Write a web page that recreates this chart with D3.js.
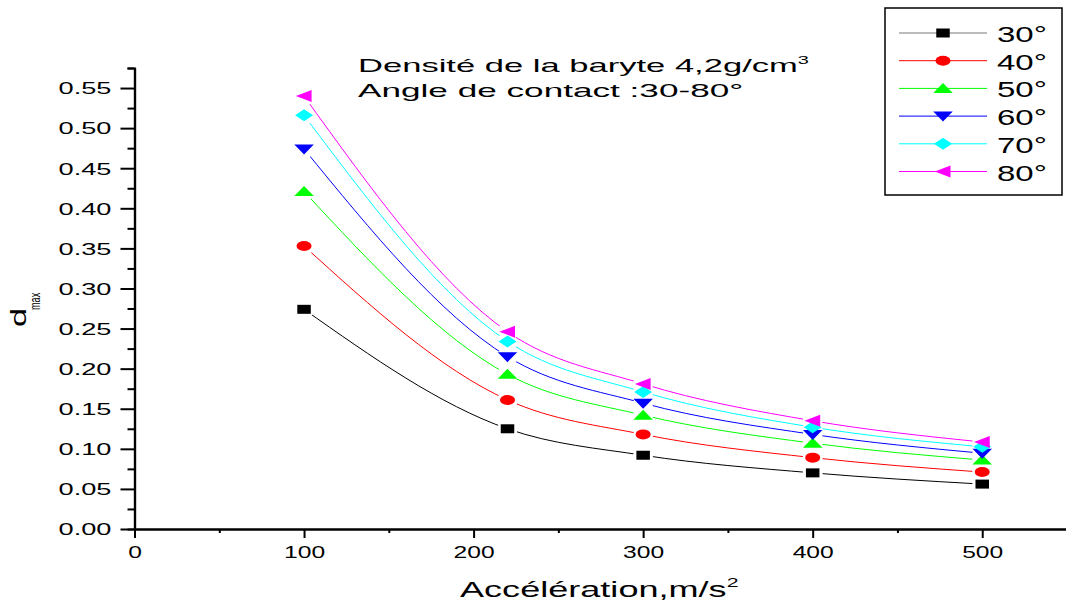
<!DOCTYPE html>
<html>
<head>
<meta charset="utf-8">
<script src="https://cdn.jsdelivr.net/npm/d3@7"></script>
<style>
  body { margin: 0; background: #fff; }
  text { font-family: "Liberation Sans", Arial, sans-serif; fill: #000; }
</style>
</head>
<body>
<script>
const width = 1066;
const height = 606;

// acceleration (m/s^2) and d_max for each contact angle
const accel = [100, 220, 300, 400, 500];
const angles = ['30°', '40°', '50°', '60°', '70°', '80°'];
const d30 = [0.274, 0.125, 0.092, 0.070, 0.056];
const d40 = [0.353, 0.161, 0.118, 0.089, 0.071];
const d50 = [0.421, 0.193, 0.142, 0.107, 0.086];
const d60 = [0.474, 0.215, 0.157, 0.118, 0.0945];
const d70 = [0.516, 0.234, 0.171, 0.127, 0.1025];
const d80 = [0.540, 0.246, 0.181, 0.135, 0.1085];
const colors = ['#000000', '#ff0000', '#00ff00', '#0000ff', '#00ffff', '#ff00ff'];
const yTicks = [0, 0.05, 0.10, 0.15, 0.20, 0.25, 0.30, 0.35, 0.40, 0.45, 0.50, 0.55];
const xTicks = [0, 100, 200, 300, 400, 500];

const series = [d30, d40, d50, d60, d70, d80];

// marker shapes (drawn then stretched horizontally)
const symbols = [
  {draw(c){ c.rect(-4.5, -4.5, 9, 9); }},
  {draw(c){ c.moveTo(5, 0); c.arc(0, 0, 5, 0, 2 * Math.PI); }},
  {draw(c){ c.moveTo(0, -5.5); c.lineTo(6.5, 4.5); c.lineTo(-6.5, 4.5); c.closePath(); }},
  {draw(c){ c.moveTo(0, 5.5); c.lineTo(6.5, -4.5); c.lineTo(-6.5, -4.5); c.closePath(); }},
  {draw(c){ c.moveTo(0, -6); c.lineTo(6, 0); c.lineTo(0, 6); c.lineTo(-6, 0); c.closePath(); }},
  {draw(c){ c.moveTo(-5.5, 0); c.lineTo(5, -6); c.lineTo(5, 6); c.closePath(); }}
];

const x = d3.scaleLinear().domain([0, 550]).range([134.5, 1067]);
const y = d3.scaleLinear().domain([0, 0.575]).range([529, 68]);

const svg = d3.select('body').append('svg').attr('width', width).attr('height', height);
const defs = svg.append('defs');

// y axis
const yAxis = svg.append('g').attr('transform', `translate(${x(0)},0)`)
  .call(d3.axisLeft(y).tickValues(yTicks).tickSize(14).tickSizeOuter(0).tickFormat(d3.format('.2f')));
yAxis.append('g').call(d3.axisLeft(y).tickValues(d3.range(0.025, 0.6, 0.05)).tickSize(7).tickFormat(''));
yAxis.selectAll('path.domain').attr('stroke-width', 2.2);
yAxis.selectAll('.tick line').attr('stroke-width', 2);
yAxis.selectAll('.tick text')
  .attr('x', -23 / 1.6).attr('dy', '0.34em')
  .attr('transform', 'scale(1.6,1)')
  .style('font-size', '17px').style('font-family', '"Liberation Sans", Arial, sans-serif');

// x axis
const xAxis = svg.append('g').attr('transform', `translate(0,${y(0)})`)
  .call(d3.axisBottom(x).tickValues(xTicks).tickSize(9).tickSizeOuter(0).tickFormat(d3.format('d')));
xAxis.append('g').call(d3.axisBottom(x).tickValues(d3.range(50, 600, 100)).tickSize(4).tickFormat(''));
xAxis.selectAll('path.domain').attr('stroke-width', 2);
xAxis.selectAll('.tick line').attr('stroke-width', 2);
xAxis.selectAll('.tick text')
  .attr('y', 29).attr('dy', 0)
  .attr('transform', 'scale(1.45,1)')
  .style('font-size', '17px').style('font-family', '"Liberation Sans", Arial, sans-serif');

// curves with a gap around each marker
const line = d3.line().x((d, i) => x(accel[i])).y(d => y(d)).curve(d3.curveMonotoneX);

series.forEach((vals, s) => {
  const mask = defs.append('mask').attr('id', 'gap' + s).attr('maskUnits', 'userSpaceOnUse')
    .attr('x', 0).attr('y', 0).attr('width', width).attr('height', height);
  mask.append('rect').attr('width', width).attr('height', height).attr('fill', '#fff');
  mask.selectAll('circle').data(vals).join('circle')
    .attr('cx', (d, i) => x(accel[i])).attr('cy', d => y(d)).attr('r', 10).attr('fill', '#000');

  svg.append('path').datum(vals)
    .attr('d', line).attr('fill', 'none')
    .attr('stroke', colors[s]).attr('stroke-width', 1)
    .attr('mask', `url(#gap${s})`);
});

series.forEach((vals, s) => {
  svg.append('g').selectAll('path').data(vals).join('path')
    .attr('d', d3.symbol(symbols[s]))
    .attr('transform', (d, i) => `translate(${x(accel[i])},${y(d)}) scale(1.5,1)`)
    .attr('fill', colors[s]);
});

// legend
const legend = svg.append('g');
legend.append('rect').attr('x', 885).attr('y', 8).attr('width', 177).attr('height', 187)
  .attr('fill', '#fff').attr('stroke', '#000').attr('stroke-width', 1.5);
angles.forEach((a, s) => {
  const ly = 33 + s * 27.7;
  legend.append('line').attr('x1', 899).attr('x2', 987).attr('y1', ly).attr('y2', ly)
    .attr('stroke', s === 0 ? '#777' : colors[s]).attr('stroke-width', 1);
  legend.append('path').attr('d', d3.symbol(symbols[s]))
    .attr('transform', `translate(943,${ly}) scale(1.5,1)`).attr('fill', colors[s]);
  legend.append('text').attr('transform', `translate(997,${ly + 9}) scale(1.5,1)`)
    .style('font-size', '22px').text(a);
});

// annotation
const t1 = svg.append('text').attr('transform', 'translate(358,72) scale(1.82,1)').style('font-size', '19px');
t1.append('tspan').text('Densité de la baryte 4,2g/cm');
t1.append('tspan').attr('dy', -8).style('font-size', '11px').text('3');
svg.append('text').attr('transform', 'translate(358,97) scale(1.85,1)').style('font-size', '19px')
  .text('Angle de contact :30-80°');

// axis titles
const xl = svg.append('text').attr('transform', 'translate(460,597) scale(1.64,1)').style('font-size', '22px');
xl.append('tspan').text('Accélération,m/s');
xl.append('tspan').attr('dy', -10).style('font-size', '13px').text('2');

svg.append('text').attr('transform', 'translate(26,327) rotate(-90) scale(1.55,1)')
  .style('font-size', '22px').text('d');
svg.append('text').attr('transform', 'translate(40,310) rotate(-90) scale(0.65,1)')
  .style('font-size', '14px').text('max');
</script>
</body>
</html>
